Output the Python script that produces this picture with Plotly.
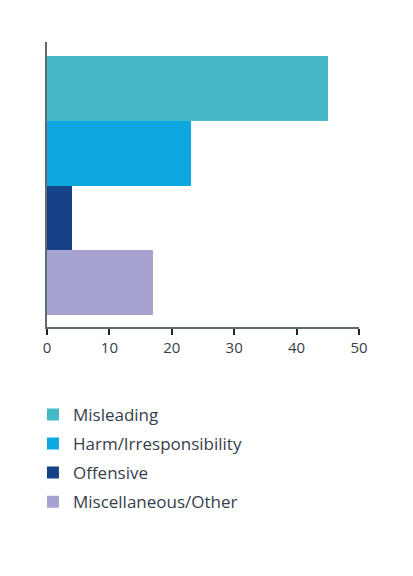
import plotly.graph_objects as go

categories = ["Misleading", "Harm/Irresponsibility", "Offensive", "Miscellaneous/Other"]
values = [45, 23, 4, 17]
colors = ["#45b9c6", "#0ea7df", "#164387", "#a7a3d0"]
positions = [3, 2, 1, 0]

fig = go.Figure()
for i in range(len(categories)):
    fig.add_trace(go.Bar(
        x=[values[i]], y=[positions[i]], name=categories[i],
        orientation="h", width=1, marker_color=colors[i],
        marker_line_width=0, legendgroup=categories[i]
    ))

fig.update_layout(
    width=413, height=576,
    margin=dict(l=39, r=62, t=34, b=257),
    plot_bgcolor="white", paper_bgcolor="white",
    barmode="overlay", bargap=0,
    font=dict(family="Open Sans", color="#36404c", size=14),
    showlegend=True,
    legend=dict(
        x=-0.045, y=-0.245, xanchor="left", yanchor="top",
        font=dict(size=17, color="#36404c"),
        traceorder="grouped", tracegroupgap=4,
        itemclick=False
    ),
    xaxis=dict(
        range=[0, 50], tickvals=[0, 10, 20, 30, 40, 50],
        showgrid=False, zeroline=False,
        showline=True, linecolor="#5f6a74", linewidth=2,
        ticks="outside", ticklen=6, tickwidth=2, tickcolor="#222222",
        tickfont=dict(size=15, color="#36404c")
    ),
    yaxis=dict(
        range=[-0.685, 3.72], showticklabels=False, showgrid=False,
        zeroline=False, showline=True, linecolor="#5f6a74", linewidth=2,
        ticks=""
    )
)

fig.write_html("out.html")
